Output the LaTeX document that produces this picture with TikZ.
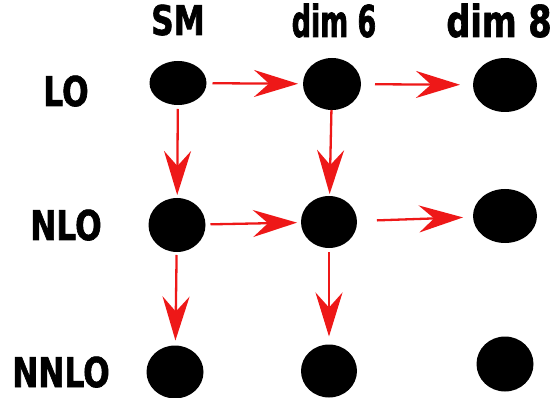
\documentclass[tikz,border=0pt]{standalone}
\usepackage{fontspec}
\setmainfont{DejaVu Sans}
\newfontfamily\lblfont{DejaVu Sans}[FakeStretch=0.76,FakeBold=1.5]
\newfontfamily\narrowfont{DejaVu Sans}[FakeStretch=0.61,FakeBold=1.5]
\usetikzlibrary{arrows.meta,shapes.geometric}
\definecolor{arrowred}{RGB}{238,24,24}

\begin{document}
\begin{tikzpicture}[x=1pt,y=-1pt]
    \tikzstyle{dot}=[ellipse,fill=black,inner sep=0pt,outer sep=0pt]
    \tikzstyle{annot}=[anchor=base,inner sep=0pt]
    \tikzstyle{flow}=[draw=arrowred,line width=2.3pt,
        -{Stealth[length=44pt,width=27pt,inset=15pt]}]

    \useasboundingbox (0,0) rectangle (554,398);

    % Draw the dots, one row per order
    \foreach \name/\x/\y/\w/\h in {SM-LO/178/83/57/44, D6-LO/332/84/58/52, D8-LO/505/85/64/54,
        SM-NLO/177/225/57/54, D6-NLO/329/222/56/52, D8-NLO/505/216/64/54,
        SM-NNLO/175/372/57/53, D6-NNLO/329/371/56/53, D8-NNLO/505/364/57/55}
        \node[dot,minimum width=\w pt,minimum height=\h pt] (\name) at (\x,\y) {};

    % Connect the dots, with the gaps left at both ends
    \foreach \source/\dest/\a/\b in {SM-LO/D6-LO/6/5, D6-LO/D8-LO/14/13,
        SM-NLO/D6-NLO/5/4, D6-NLO/D8-NLO/20/10,
        SM-LO/SM-NLO/4/3, D6-LO/D6-NLO/0/2,
        SM-NLO/SM-NNLO/3/5, D6-NLO/D6-NNLO/4/8}
        \draw[flow,shorten <=\a pt,shorten >=\b pt] (\source) -- (\dest);

    % Annotate the columns and the rows
    \node[annot,font=\fontsize{41pt}{44pt}\lblfont\bfseries] (sm) at (178,35) {SM};
    \node[annot,font=\fontsize{44pt}{47pt}\narrowfont\bfseries] (d6) at (334,37) {dim 6};
    \node[annot,font=\fontsize{44pt}{47pt}\lblfont\bfseries] (d8) at (499,37) {dim 8};
    \node[annot,font=\fontsize{41pt}{44pt}\lblfont\bfseries] (lo) at (66,106) {LO};
    \node[annot,font=\fontsize{41pt}{44pt}\lblfont\bfseries] (nlo) at (66,240) {NLO};
    \node[annot,font=\fontsize{41pt}{44pt}\lblfont\bfseries] (nnlo) at (61,387) {NNLO};
\end{tikzpicture}
\end{document}
